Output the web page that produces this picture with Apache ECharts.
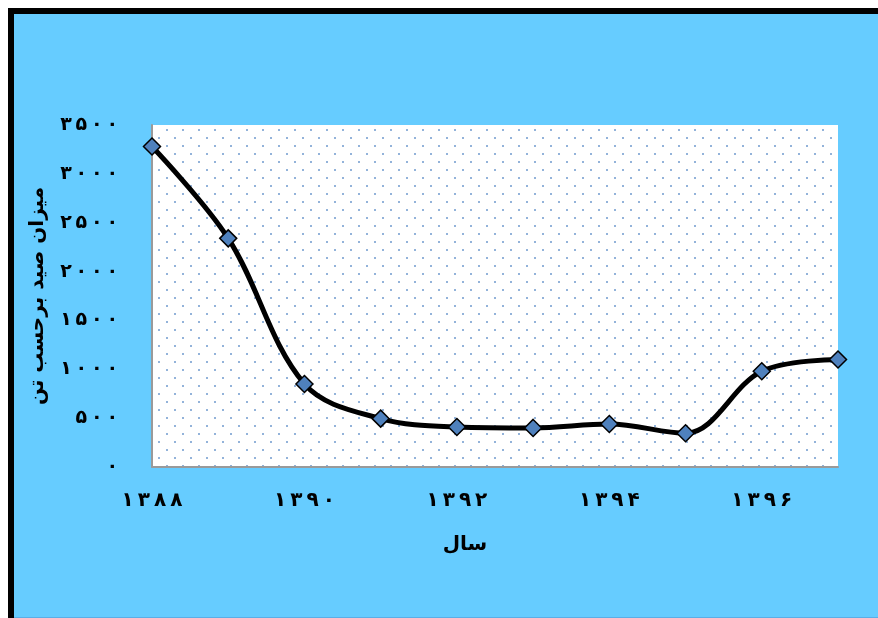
<!DOCTYPE html>
<html>
<head>
<meta charset="utf-8">
<script src="https://cdn.jsdelivr.net/npm/echarts@6/dist/echarts.min.js"></script>
<style>
  html, body { margin: 0; padding: 0; background: #ffffff; overflow: hidden; }
  #chart { width: 878px; height: 618px; }
</style>
</head>
<body>
<div id="chart"></div>
<script>
// Annual catch (tonnes), Persian calendar years
var years = ['۱۳۸۸', '۱۳۸۹', '۱۳۹۰', '۱۳۹۱', '۱۳۹۲', '۱۳۹۳', '۱۳۹۴', '۱۳۹۵', '۱۳۹۶', '۱۳۹۷'];
var catchTonnes = [3280, 2340, 850, 495, 410, 400, 440, 345, 980, 1100];
var yTickValues = [0, 500, 1000, 1500, 2000, 2500, 3000, 3500];
var yTickLabels = ['۰', '۵۰۰', '۱۰۰۰', '۱۵۰۰', '۲۰۰۰', '۲۵۰۰', '۳۰۰۰', '۳۵۰۰'];
var yAxisTitle = 'میزان صید برحسب تن';
var xAxisTitle = 'سال';

var FONT = '"DejaVu Sans", sans-serif';

// Spread the digits of a numeral a little apart
function spaced(s) {
  return Array.from(s).join('\u2009');
}

// Dotted fill for the plot area
function makeDotPattern() {
  var c = document.createElement('canvas');
  c.width = 16; c.height = 16;
  var ctx = c.getContext('2d');
  ctx.fillStyle = '#ffffff';
  ctx.fillRect(0, 0, 16, 16);
  ctx.fillStyle = '#93B3DA';
  ctx.fillRect(6, 1, 2, 2);
  ctx.fillRect(14, 9, 2, 2);
  return { image: c, repeat: 'repeat' };
}

var chart = echarts.init(document.getElementById('chart'), null, { renderer: 'canvas' });

chart.setOption({
  animation: false,
  backgroundColor: '#ffffff',
  graphic: [
    {
      type: 'rect',
      z: -10,
      silent: true,
      shape: { x: 11, y: 11, width: 2000, height: 2000 },
      style: { fill: '#66CCFF', stroke: '#000000', lineWidth: 6 }
    },
    {
      type: 'line',
      z: -9,
      silent: true,
      shape: { x1: 14, y1: 617.5, x2: 878, y2: 617.5 },
      style: { stroke: '#5AAEE6', lineWidth: 1 }
    }
  ],
  grid: {
    left: 152,
    right: 40,
    top: 125,
    bottom: 151,
    show: true,
    backgroundColor: makeDotPattern(),
    borderWidth: 0
  },
  xAxis: {
    type: 'category',
    data: years,
    boundaryGap: false,
    name: xAxisTitle,
    nameLocation: 'middle',
    nameGap: 68,
    nameTextStyle: {
      fontFamily: FONT, fontSize: 20, fontWeight: 'bold', color: '#000',
      padding: [0, 60, 0, 0]
    },
    axisLine: { show: true, lineStyle: { color: '#9A9A9A', width: 2 } },
    axisTick: { show: false },
    splitLine: { show: false },
    axisLabel: {
      interval: 1,
      margin: 24,
      fontFamily: FONT, fontSize: 20, fontWeight: 'bold', color: '#000',
      formatter: function (v) { return spaced(v); }
    }
  },
  yAxis: {
    type: 'value',
    min: 0,
    max: 3500,
    interval: 500,
    name: yAxisTitle,
    nameLocation: 'middle',
    nameRotate: 90,
    nameGap: 104,
    nameTextStyle: { fontFamily: FONT, fontSize: 20, fontWeight: 'bold', color: '#000' },
    axisLine: { show: true, lineStyle: { color: '#9A9A9A', width: 2 } },
    axisTick: { show: false },
    splitLine: { show: false },
    axisLabel: {
      margin: 34,
      fontFamily: FONT, fontSize: 19, fontWeight: 'bold', color: '#000',
      formatter: function (v) {
        var i = yTickValues.indexOf(v);
        return i >= 0 ? spaced(yTickLabels[i]) : '';
      }
    }
  },
  series: [{
    type: 'line',
    data: catchTonnes,
    smooth: 0.35,
    symbol: 'diamond',
    symbolSize: 17,
    showAllSymbol: true,
    lineStyle: { color: '#000000', width: 5 },
    itemStyle: { color: '#4F81BD', borderColor: '#000000', borderWidth: 1.5 },
    z: 3
  }]
});
</script>
</body>
</html>
